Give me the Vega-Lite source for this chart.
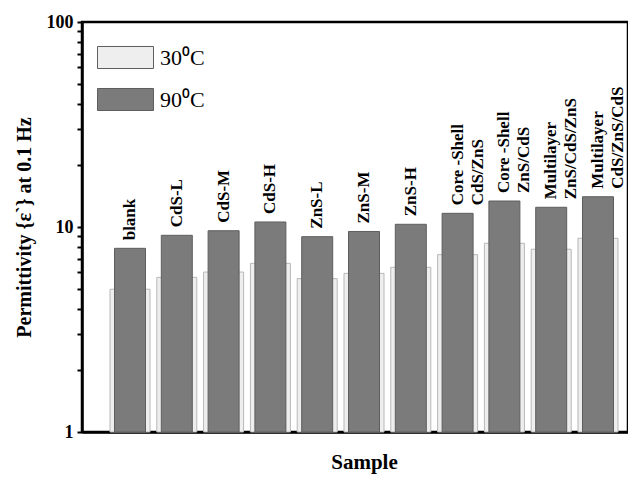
{
  "$schema": "https://vega.github.io/schema/vega-lite/v6.json",
  "width": 546,
  "height": 410,
  "autosize": {"type": "none"},
  "padding": {"left": 82, "top": 22, "right": 0, "bottom": 45},
  "background": "white",
  "config": {
    "view": {"stroke": "black", "strokeWidth": 2.5},
    "font": "Liberation Serif",
    "axis": {
      "grid": false,
      "zindex": 1,
      "ticks": true,
      "domainColor": "black",
      "domainWidth": 2.5,
      "tickColor": "black",
      "tickWidth": 2,
      "labelFont": "Liberation Serif",
      "titleFont": "Liberation Serif",
      "labelFontWeight": "bold",
      "titleFontWeight": "bold",
      "labelColor": "black",
      "titleColor": "black"
    }
  },
  "data": {
    "values": [
      {"sample": "blank", "temp": "30⁰C", "value": 4.97},
      {"sample": "blank", "temp": "90⁰C", "value": 7.87},
      {"sample": "CdS-L", "temp": "30⁰C", "value": 5.68},
      {"sample": "CdS-L", "temp": "90⁰C", "value": 9.11},
      {"sample": "CdS-M", "temp": "30⁰C", "value": 6.03},
      {"sample": "CdS-M", "temp": "90⁰C", "value": 9.59},
      {"sample": "CdS-H", "temp": "30⁰C", "value": 6.65},
      {"sample": "CdS-H", "temp": "90⁰C", "value": 10.58},
      {"sample": "ZnS-L", "temp": "30⁰C", "value": 5.6},
      {"sample": "ZnS-L", "temp": "90⁰C", "value": 8.97},
      {"sample": "ZnS-M", "temp": "30⁰C", "value": 5.94},
      {"sample": "ZnS-M", "temp": "90⁰C", "value": 9.51},
      {"sample": "ZnS-H", "temp": "30⁰C", "value": 6.36},
      {"sample": "ZnS-H", "temp": "90⁰C", "value": 10.31},
      {"sample": "Core -Shell\nCdS/ZnS", "temp": "30⁰C", "value": 7.33},
      {"sample": "Core -Shell\nCdS/ZnS", "temp": "90⁰C", "value": 11.66},
      {"sample": "Core -Shell\nZnS/CdS", "temp": "30⁰C", "value": 8.33},
      {"sample": "Core -Shell\nZnS/CdS", "temp": "90⁰C", "value": 13.39},
      {"sample": "Multilayer\nZnS/CdS/ZnS", "temp": "30⁰C", "value": 7.79},
      {"sample": "Multilayer\nZnS/CdS/ZnS", "temp": "90⁰C", "value": 12.48},
      {"sample": "Multilayer\nCdS/ZnS/CdS", "temp": "30⁰C", "value": 8.81},
      {"sample": "Multilayer\nCdS/ZnS/CdS", "temp": "90⁰C", "value": 14.05}
    ]
  },
  "layer": [
    {
      "transform": [{"filter": "datum.temp == '30⁰C'"}],
      "mark": {"type": "bar", "width": 40, "stroke": "#b8b8b8", "strokeWidth": 1},
      "encoding": {
        "x": {
          "field": "sample", "type": "nominal", "sort": null,
          "scale": {"range": [0, 564], "paddingInner": 0, "paddingOuter": 0.526},
          "axis": {
            "orient": "bottom",
            "labels": false,
            "ticks": true,
            "tickSize": -6,
            "title": "Sample",
            "titleFontSize": 21,
            "titlePadding": 18
          }
        },
        "y": {
          "field": "value", "type": "quantitative",
          "scale": {"type": "log", "domain": [1, 100]},
          "axis": {
            "orient": "left",
            "values": [1, 2, 3, 4, 5, 6, 7, 8, 9, 10, 20, 30, 40, 50, 60, 70, 80, 90, 100],
            "labelExpr": "(datum.value == 1 || datum.value == 10 || datum.value == 100) ? format(datum.value, 'd') : ''",
            "ticks": true,
            "tickSize": 5,
            "labelFontSize": 18,
            "labelPadding": 4,
            "labelFlush": false,
            "labelOverlap": false,
            "title": "Permittivity {ε`} at 0.1 Hz",
            "titleFontSize": 20,
            "titlePadding": 12
          }
        },
        "y2": {"datum": 1},
        "fill": {
          "field": "temp", "type": "nominal",
          "scale": {"domain": ["30⁰C", "90⁰C"], "range": ["#eeeeee", "#7b7b7b"]},
          "legend": {
            "orient": "none",
            "legendX": 15,
            "legendY": 7,
            "title": null,
            "symbolType": "M-1,-0.393H1V0.393H-1Z",
            "symbolSize": 3136,
            "symbolStrokeColor": "#9a9a9a",
            "symbolStrokeWidth": 1,
            "symbolOpacity": 1,
            "labelFont": "Liberation Serif",
            "labelFontSize": 22,
            "labelColor": "black",
            "labelOffset": 6,
            "rowPadding": -12
          }
        }
      }
    },
    {
      "transform": [{"filter": "datum.temp == '90⁰C'"}],
      "mark": {"type": "bar", "width": 31, "stroke": "#5e5e5e", "strokeWidth": 1},
      "encoding": {
        "x": {"field": "sample", "type": "nominal", "sort": null},
        "y": {"field": "value", "type": "quantitative"},
        "y2": {"datum": 1},
        "fill": {"field": "temp", "type": "nominal"}
      }
    },
    {
      "transform": [{"filter": "datum.temp == '90⁰C'"}],
      "mark": {
        "type": "text", "angle": 270, "align": "left", "baseline": "middle", "dx": 8,
        "font": "Liberation Serif", "fontWeight": "bold", "fontSize": 17,
        "lineBreak": "\n", "lineHeight": 20, "color": "black"
      },
      "encoding": {
        "x": {"field": "sample", "type": "nominal", "sort": null},
        "y": {"field": "value", "type": "quantitative"},
        "text": {"field": "sample"}
      }
    }
  ]
}
